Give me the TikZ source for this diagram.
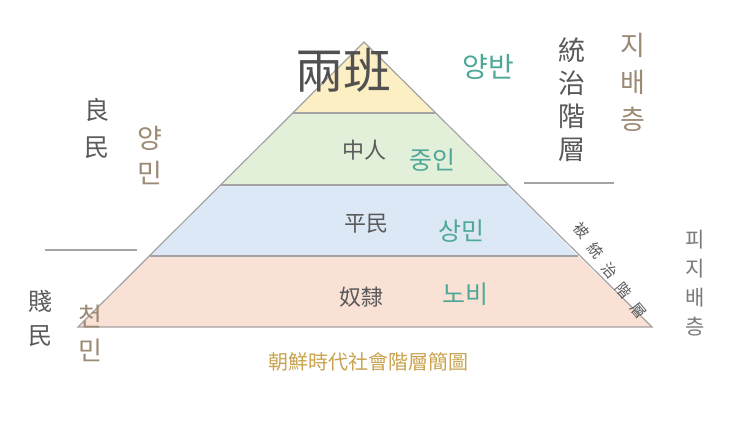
\documentclass[tikz,border=0pt]{standalone}
\usepackage{fontspec}
\newfontfamily\kr{Noto Sans CJK KR}
\newfontfamily\tc{Noto Sans CJK TC}
\definecolor{ylw}{HTML}{FBEFC3}
\definecolor{grn}{HTML}{E2EFD9}
\definecolor{blu}{HTML}{DCE8F5}
\definecolor{pnk}{HTML}{F9E1D6}
\definecolor{edge}{HTML}{A3A3A3}
\definecolor{teal}{HTML}{4EA898}
\definecolor{brn}{HTML}{9C8A74}
\definecolor{ink}{HTML}{5A5A5A}
\definecolor{gold}{HTML}{C9A34E}
\tikzset{
 han/.style={font=\tc\fontsize{22}{24}\selectfont, text=ink, inner sep=0},
 kor/.style={font=\kr\fontsize{25}{27}\selectfont, text=teal, inner sep=0},
 vert/.style={align=center, inner sep=0},
 band/.style={draw=edge, line width=1.2pt},
 rule/.style={draw=edge, line width=1.5pt}
}
\begin{document}
\begin{tikzpicture}[x=1pt,y=-1pt]
\useasboundingbox[fill=white] (0,0) rectangle (740,421);
\fill[ylw] (364,42) -- (435,113) -- (293,113) -- cycle;
\fill[grn] (293,113) -- (435,113) -- (507,185) -- (221,185) -- cycle;
\fill[blu] (221,185) -- (507,185) -- (578,256) -- (150,256) -- cycle;
\fill[pnk] (150,256) -- (578,256) -- (652,327) -- (78,327) -- cycle;
\draw[band] (364,42) -- (652,327) -- (78,327) -- cycle;
\draw[band] (293,113) -- (435,113) (221,185) -- (507,185) (150,256) -- (578,256);
\draw[rule] (45,250) -- (137,250);
\draw[rule] (524,183) -- (614,183);
\node[han, font=\tc\fontsize{48}{50}\selectfont, text=ink!90!black] (t1) at (343,70) {兩班};
\node[kor, font=\kr\fontsize{28}{30}\selectfont] (k1) at (488,67) {양반};
\node[han] (t2) at (364,150) {中人};
\node[kor] (k2) at (432,160) {중인};
\node[han] (t3) at (366,224) {平民};
\node[kor] (k3) at (461,231) {상민};
\node[han] (t4) at (361,297) {奴隸};
\node[kor] (k4) at (465,294) {노비};
\node[han, vert, font=\tc\fontsize{25}{27}\selectfont] (l1) at (97,128) {良\\[10pt]民};
\node[kor, vert, text=brn, font=\kr\fontsize{27}{29}\selectfont] (l2) at (150,155) {양\\[6pt]민};
\node[han, vert, font=\tc\fontsize{24}{26}\selectfont] (l3) at (40,318) {賤\\[8pt]民};
\node[kor, vert, text=brn, font=\kr\fontsize{26}{28}\selectfont] (l4) at (90,333) {천\\[6pt]민};
\node[han, vert, font=\tc\fontsize{27}{29}\selectfont] (r1) at (572,100) {統\\[4pt]治\\[4pt]階\\[4pt]層};
\node[kor, vert, text=brn, font=\kr\fontsize{27}{29}\selectfont] (r2) at (633,82) {지\\[8pt]배\\[8pt]층};
\node[kor, vert, text=ink!80, font=\kr\fontsize{21}{23}\selectfont] (r3) at (695,283) {피\\[6pt]지\\[6pt]배\\[6pt]층};
\foreach \c [count=\i] in {被,統,治,階,層}
  \node[han, font=\tc\fontsize{15}{15}\selectfont, rotate=-50] (s\i) at ({568+\i*14},{211+\i*20}) {\c};
\node[font=\tc\fontsize{20}{22}\selectfont, text=gold, inner sep=0] (title) at (368,362) {朝鮮時代社會階層簡圖};
\end{tikzpicture}
\end{document}
